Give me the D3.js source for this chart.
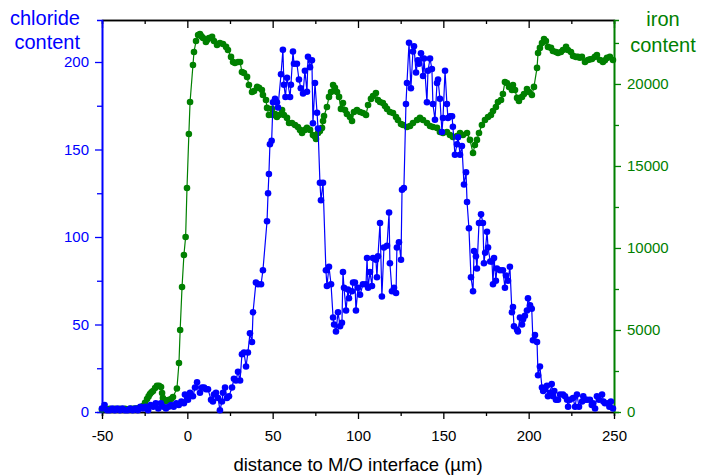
<!DOCTYPE html>
<html>
<head>
<meta charset="utf-8">
<script src="https://cdn.jsdelivr.net/npm/d3@7"></script>
<style>
  html, body { margin: 0; padding: 0; background: #fff; }
  svg { display: block; }
  text { font-family: "Liberation Sans", Arial, sans-serif; }
</style>
</head>
<body>
<svg id="chart" width="701" height="475"></svg>
<script>
// ---- data ----
const xTickValues = [-50, 0, 50, 100, 150, 200, 250];
const clTickValues = [0, 50, 100, 150, 200];
const feTickValues = [0, 5000, 10000, 15000, 20000];

const clDistance = [-50,-48.5,-47,-45.5,-44,-42.5,-41,-39.5,-38,-36.5,-35,-33.5,-32,-30.5,-29,-27.5,-26,-24.5,-23,-21.5,-20,-18.5,-17,-15.5,-14,-12.5,-11,-9.5,-8,-6.5,-5,-3.5,-2,
 -1.4,-0.2,0.4,1.6,3.3,4.5,5.7,7.4,8.6,9.8,10.9,12.1,13.9,15,15.6,16.8,18,19.1,20.3,20.9,22.1,23.2,24.4,26.2,27.3,28.5,29.7,30.9,32,33.2,34.4,35.5,36.7,37.9,38.5,40.2,41.4,43.2,44.3,46.7,47.3,47.8,48.4,49.4,50.2,51.4,52.5,53.1,54.9,56,56.6,57.5,58.4,60.2,60.7,61.9,62.5,64.2,65.4,66.5,67.8,68.9,70.1,70.7,71.9,73,73.6,74.8,76,76.6,77.7,78.3,79.5,81.2,81.8,83,84.2,85.4,86,87.1,88.3,89.5,90.6,91.2,91.8,93,94.1,94.7,96.5,97.1,98.2,98.8,100,101.2,102.9,104.7,105.3,105.9,107,108.2,108.8,110.5,111.1,111.7,112.9,114,115.2,117,118.2,118.7,119.9,121.1,122.3,122.8,124,125.2,125.8,126.9,128.1,128.7,129.9,131,132.2,132.8,134,135.1,135.7,136.9,138.1,138.7,140.4,141,142.2,143.3,143.9,145.1,146.3,146.9,148,149.2,149.8,151,152.1,152.7,153.9,155.1,155.6,156.8,158,158.6,159.8,160.9,162.1,163.3,163.9,165,166.2,167.4,168,169.1,169.7,170.9,172.1,173.2,173.8,174.5,175.6,176.2,177.5,178.5,179.1,179.7,180.8,181.4,183.2,184.9,186.1,186.7,187.9,189,190.2,190.8,191.4,193.2,193.7,194.9,196.1,196.7,197.8,199,199.6,200.8,201.8,202.5,203.7,204.9,205.5,206.6,207.8,208.5,209.6,210.7,211.3,212.5,213.5,214.3,215,216,217.2,218.4,220.1,221.3,222.5,223.1,224.2,226,227.2,228.3,229.5,231.3,232,233,234.2,235.9,237,237.7,238.9,240,241.2,243,243.8,244.7,246.5,247.3,248.2,249.4];
const clContent = [2,4,1,1,2,1,2,1,2,1,1,2,1,2,1,3,2,3,1,4,3,5,2,5,3,2,3,4,3,5,4,6,5,
 10,9,7,11,9,14,17,11,14,14,13,13,7,6,10,11,8,1,6,11,14,8,9,14,19,18,23,18,33,34,26,34,45,40,57,74,73,73,81,109,125,136,153,155,177,179,177,174,193,207,187,180,191,180,187,206,199,199,190,185,182,195,183,203,197,201,165,188,171,162,131,121,131,81,72,83,73,54,50,46,57,49,51,80,71,58,70,65,69,74,74,58,71,67,73,73,88,71,80,72,88,87,77,89,108,66,94,95,114,85,69,71,68,94,97,87,127,128,176,188,211,185,206,209,194,201,199,205,192,202,177,195,202,196,176,167,188,190,179,160,168,195,176,168,169,169,163,147,153,157,147,152,130,137,120,105,77,69,92,89,82,108,113,108,85,91,103,94,86,86,73,88,75,82,81,81,71,78,75,83,57,60,49,47,46,54,50,53,55,58,65,61,59,41,44,40,21,26,14,12,13,15,9,11,16,9,12,7,7,10,10,9,7,3,7,8,3,10,3,6,9,7,7,7,4,5,2,9,7,10,6,5,5,3,6,2];

const feDistance = [-50,-48.5,-47,-45.5,-44,-42.5,-41,-39.5,-38,-36.5,-35,-33.5,-32,-30.5,-29,-27.5,-26,-24.8,-23.6,-22.7,-21.9,-21,-20.1,-18.9,-17.8,-16.6,-15.4,-14.8,-14.3,-13.2,-12.5,-11.3,-9.6,-8.4,-6.1,-4.9,-4.2,-3.1,-2,-1,-0.2,0.9,1.6,3.3,3.9,5.1,6.3,7.4,8.3,9.2,10.9,11.8,12.7,14.5,15.6,17.4,19.1,20.9,22.7,23.8,25.6,26.8,27.9,29.7,30.9,32,33.2,35,36.1,37.9,39.1,40.8,42,43.7,44.3,46.1,46.7,47.8,49.6,50.2,51.4,52.5,53.7,55.5,56.6,58.4,59.6,61.3,63.1,64.8,66,67.2,68.9,70.1,71.9,73.6,74.5,75.4,76.6,77.7,78.9,79.5,80.1,81.8,83,84.2,85.4,86.5,87.7,88.9,90,91.2,92.4,93.5,95.3,96.5,97.6,99.4,101.2,102.9,104.7,105.9,107.6,108.8,110.5,111.7,112.9,114.6,115.8,117,118.7,120.5,122.3,123.4,125.2,126.4,128.7,130.5,132.2,134.6,136.3,138.1,140.4,142.2,143.9,146.3,148,149.8,152.1,153.9,155.6,158,159.8,161.5,163.9,165.6,167.4,168.5,169.7,170.9,172.6,174.4,176.2,177.9,179.1,180.8,182,183.8,184.9,186.1,187.3,188.5,190.2,190.8,192,193.2,194.3,196.1,197.3,199,200.2,201.9,203.1,204.9,205.5,206.6,207.8,209,210.1,211.3,213.1,214.2,216,217.2,218.9,220.1,221.9,223,224.8,226,227.7,228.9,230,231.2,233,234.7,236,237.1,238.8,240,241.8,243.5,244.7,245.9,247.6,249.4];
const feContent = [150,180,160,200,170,190,170,200,180,190,170,200,190,210,230,280,370,560,790,950,1100,1200,1280,1460,1590,1600,1520,1160,850,720,670,730,790,915,1430,2990,5000,7620,9570,10670,13660,16950,18900,21160,21950,22620,22990,23050,22900,22800,22560,22700,22800,22870,22620,22380,22500,22440,22260,22070,21650,21340,21280,21340,21340,20730,20670,20430,19940,19510,19570,19820,19760,19630,19330,19020,18540,18110,18480,18110,18170,17990,18110,18410,18110,17930,17620,17620,17500,17380,17200,17010,17200,17320,17200,16890,16830,16650,17010,17130,17320,17740,18050,18600,19210,19510,19940,19760,19510,19210,18480,18840,18410,18170,17990,17740,18290,18410,18290,18230,18110,18720,19090,19270,19450,19020,18900,18840,18660,18480,18290,18230,17990,17800,17560,17500,17380,17440,17620,17800,17930,17800,17620,17440,17380,17320,17070,17010,17070,16890,16770,16830,17010,16890,17010,16590,15790,16280,16590,17010,17500,17800,17990,18110,18350,18600,18900,19020,19390,20120,20060,19820,19630,19940,19630,19150,18960,19210,19390,19690,19510,19330,19820,20980,21890,22200,22500,22740,22620,22260,22200,22010,21950,21890,21950,22070,22260,22070,21950,21710,21650,21650,21600,21650,21340,21460,21500,21520,21650,21770,21460,21340,21450,21590,21650,21460];

// ---- chart ----
const BLUE = "#0000ff", GREEN = "#008000";
const svg = d3.select("#chart");
const mLeft = 102, mRight = 614, mTop = 20, mBottom = 412;

const x = d3.scaleLinear().domain([-50, 250]).range([mLeft, mRight]);
const yCl = d3.scaleLinear().domain([0, 224]).range([mBottom, mTop]);
const yFe = d3.scaleLinear().domain([0, 23900]).range([mBottom, mTop]);

const fmt = d => String(d);   // plain hyphen-minus like the reference
const fontSize = 15;

function styleAxis(g, color) {
  g.selectAll("path.domain").attr("stroke", color).attr("stroke-width", 1.6);
  g.selectAll(".tick line").attr("stroke", color).attr("stroke-width", 1.3);
  g.selectAll("text").attr("fill", color).style("font-size", fontSize + "px")
    .style("font-family", '"Liberation Sans", Arial, sans-serif');
}

const xMinor = d3.range(-25, 250, 50);
const clMinor = d3.range(25, 224, 50);
const feMinor = d3.range(2500, 23900, 5000);

// bottom axis
const gxMin = svg.append("g").attr("transform", `translate(0,${mBottom})`)
  .call(d3.axisBottom(x).tickValues(xMinor).tickSize(4).tickFormat(""));
styleAxis(gxMin, "#000");
const gx = svg.append("g").attr("transform", `translate(0,${mBottom})`)
  .call(d3.axisBottom(x).tickValues(xTickValues).tickSize(7).tickSizeOuter(0).tickPadding(11).tickFormat(fmt));
styleAxis(gx, "#000");

// top axis (ticks inward)
const gtMin = svg.append("g").attr("transform", `translate(0,${mTop})`)
  .call(d3.axisBottom(x).tickValues(xMinor).tickSize(4).tickFormat(""));
styleAxis(gtMin, "#000");
const gt = svg.append("g").attr("transform", `translate(0,${mTop})`)
  .call(d3.axisBottom(x).tickValues(xTickValues).tickSize(8).tickSizeOuter(0).tickFormat(""));
styleAxis(gt, "#000");

// left axis (chloride)
const glMin = svg.append("g").attr("transform", `translate(${mLeft},0)`)
  .call(d3.axisLeft(yCl).tickValues(clMinor).tickSize(5).tickFormat(""));
styleAxis(glMin, BLUE);
const gl = svg.append("g").attr("transform", `translate(${mLeft},0)`)
  .call(d3.axisLeft(yCl).tickValues(clTickValues).tickSize(7).tickSizeOuter(0).tickPadding(6).tickFormat(fmt));
styleAxis(gl, BLUE);

// right axis (iron)
const grMin = svg.append("g").attr("transform", `translate(${mRight},0)`)
  .call(d3.axisRight(yFe).tickValues(feMinor).tickSize(5).tickFormat(""));
styleAxis(grMin, GREEN);
const gr = svg.append("g").attr("transform", `translate(${mRight},0)`)
  .call(d3.axisRight(yFe).tickValues(feTickValues).tickSize(7).tickSizeOuter(0).tickPadding(6).tickFormat(fmt));
styleAxis(gr, GREEN);

// data
const feData = feDistance.map((d, i) => ({ d, v: feContent[i] })).filter(p => p.v !== undefined);
const clData = clDistance.map((d, i) => ({ d, v: clContent[i] })).filter(p => p.v !== undefined);

const feLine = d3.line().x(p => x(p.d)).y(p => yFe(p.v));
const clLine = d3.line().x(p => x(p.d)).y(p => yCl(p.v));

svg.append("path").datum(feData).attr("d", feLine)
  .attr("fill", "none").attr("stroke", GREEN).attr("stroke-width", 1.2);
svg.append("g").selectAll("circle").data(feData).join("circle")
  .attr("cx", p => x(p.d)).attr("cy", p => yFe(p.v)).attr("r", 3.3).attr("fill", GREEN);

svg.append("path").datum(clData).attr("d", clLine)
  .attr("fill", "none").attr("stroke", BLUE).attr("stroke-width", 1.2);
svg.append("g").selectAll("circle").data(clData).join("circle")
  .attr("cx", p => x(p.d)).attr("cy", p => yCl(p.v)).attr("r", 3.3).attr("fill", BLUE);

// titles
svg.append("text").attr("x", 358).attr("y", 471).attr("text-anchor", "middle")
  .style("font-size", "18.5px").attr("fill", "#000").text("distance to M/O interface (µm)");

const lt = svg.append("text").attr("text-anchor", "end").attr("fill", BLUE).style("font-size", "20px");
lt.append("tspan").attr("x", 80).attr("y", 25).text("chloride");
lt.append("tspan").attr("x", 80).attr("y", 49).text("content");

const rt = svg.append("text").attr("text-anchor", "middle").attr("fill", GREEN).style("font-size", "20px");
rt.append("tspan").attr("x", 663).attr("y", 26).text("iron");
rt.append("tspan").attr("x", 663).attr("y", 52).text("content");
</script>
</body>
</html>
